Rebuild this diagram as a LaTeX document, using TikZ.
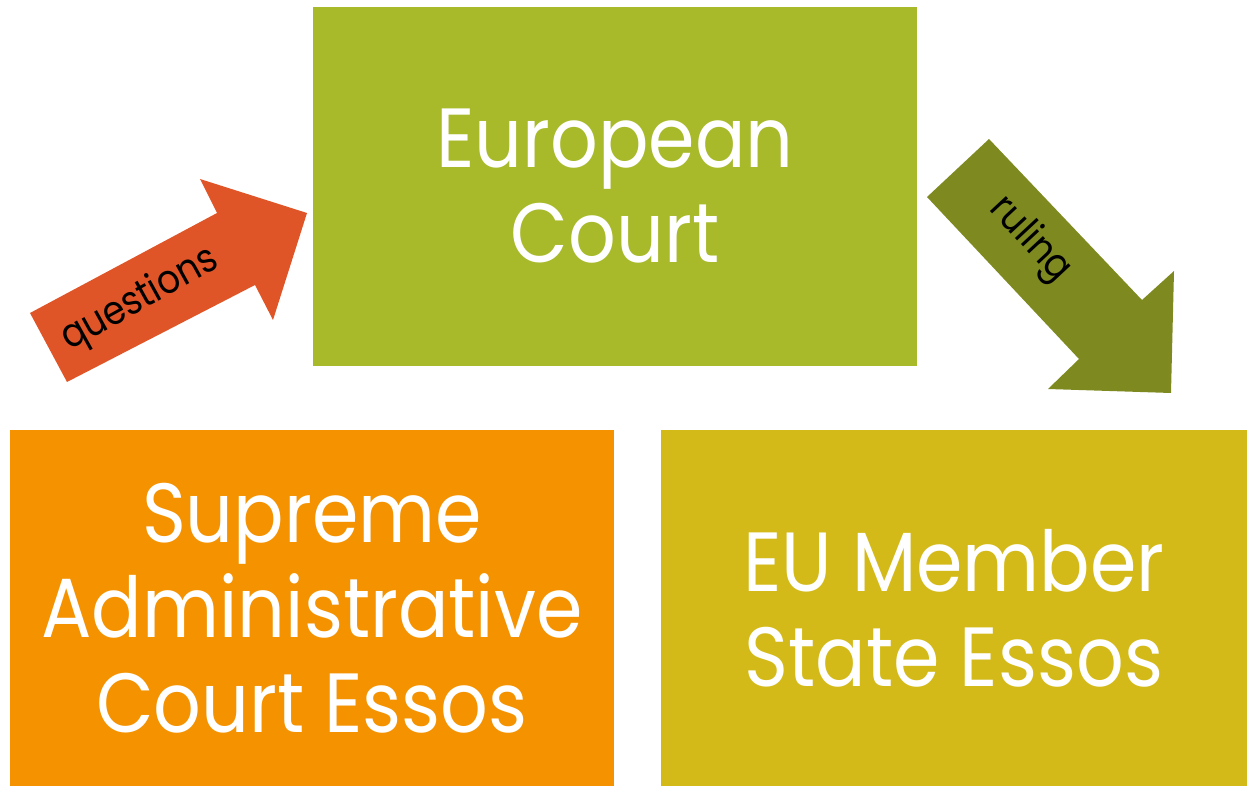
\documentclass[tikz,border=0pt]{standalone}
\usepackage{fontspec}
\setmainfont{Poppins}[FakeStretch=0.89]
\definecolor{ecgreen}{HTML}{A8B92A}
\definecolor{saorange}{HTML}{F49200}
\definecolor{eumustard}{HTML}{D4BA18}
\definecolor{qred}{HTML}{E05528}
\definecolor{rolive}{HTML}{7E8A20}
\tikzset{
  box/.style={rectangle, inner sep=0pt, text=white, align=center,
    font=\fontsize{84}{95}\selectfont},
  lbl/.style={inner sep=0pt, text=black, font=\fontsize{40}{44}\selectfont}
}
\begin{document}
\begin{tikzpicture}[x=1pt,y=-1pt]
\useasboundingbox (0,0) rectangle (1247,786);
\node[box, fill=ecgreen, minimum width=604pt, minimum height=359pt] (ec) at (615,186.5) {European\\Court};
\node[box, fill=saorange, minimum width=604pt, minimum height=356pt] (sac) at (312,608) {Supreme\\Administrative\\Court Essos};
\node[box, fill=eumustard, minimum width=586pt, minimum height=356pt] (eu) at (954,608) {EU Member\\State Essos};
\fill[qred] (30,313) -- (217,213) -- (200,179) -- (307,213) -- (273,320) -- (255,285) -- (67,382) -- cycle;
\fill[rolive] (927,197) -- (989,139) -- (1142,300) -- (1174,271) -- (1171,393) -- (1048,389) -- (1079,359) -- cycle;
\node[lbl, rotate=29] (q) at (140,300) {questions};
\node[lbl, rotate=-47] (r) at (1030,240) {ruling};
\end{tikzpicture}
\end{document}
